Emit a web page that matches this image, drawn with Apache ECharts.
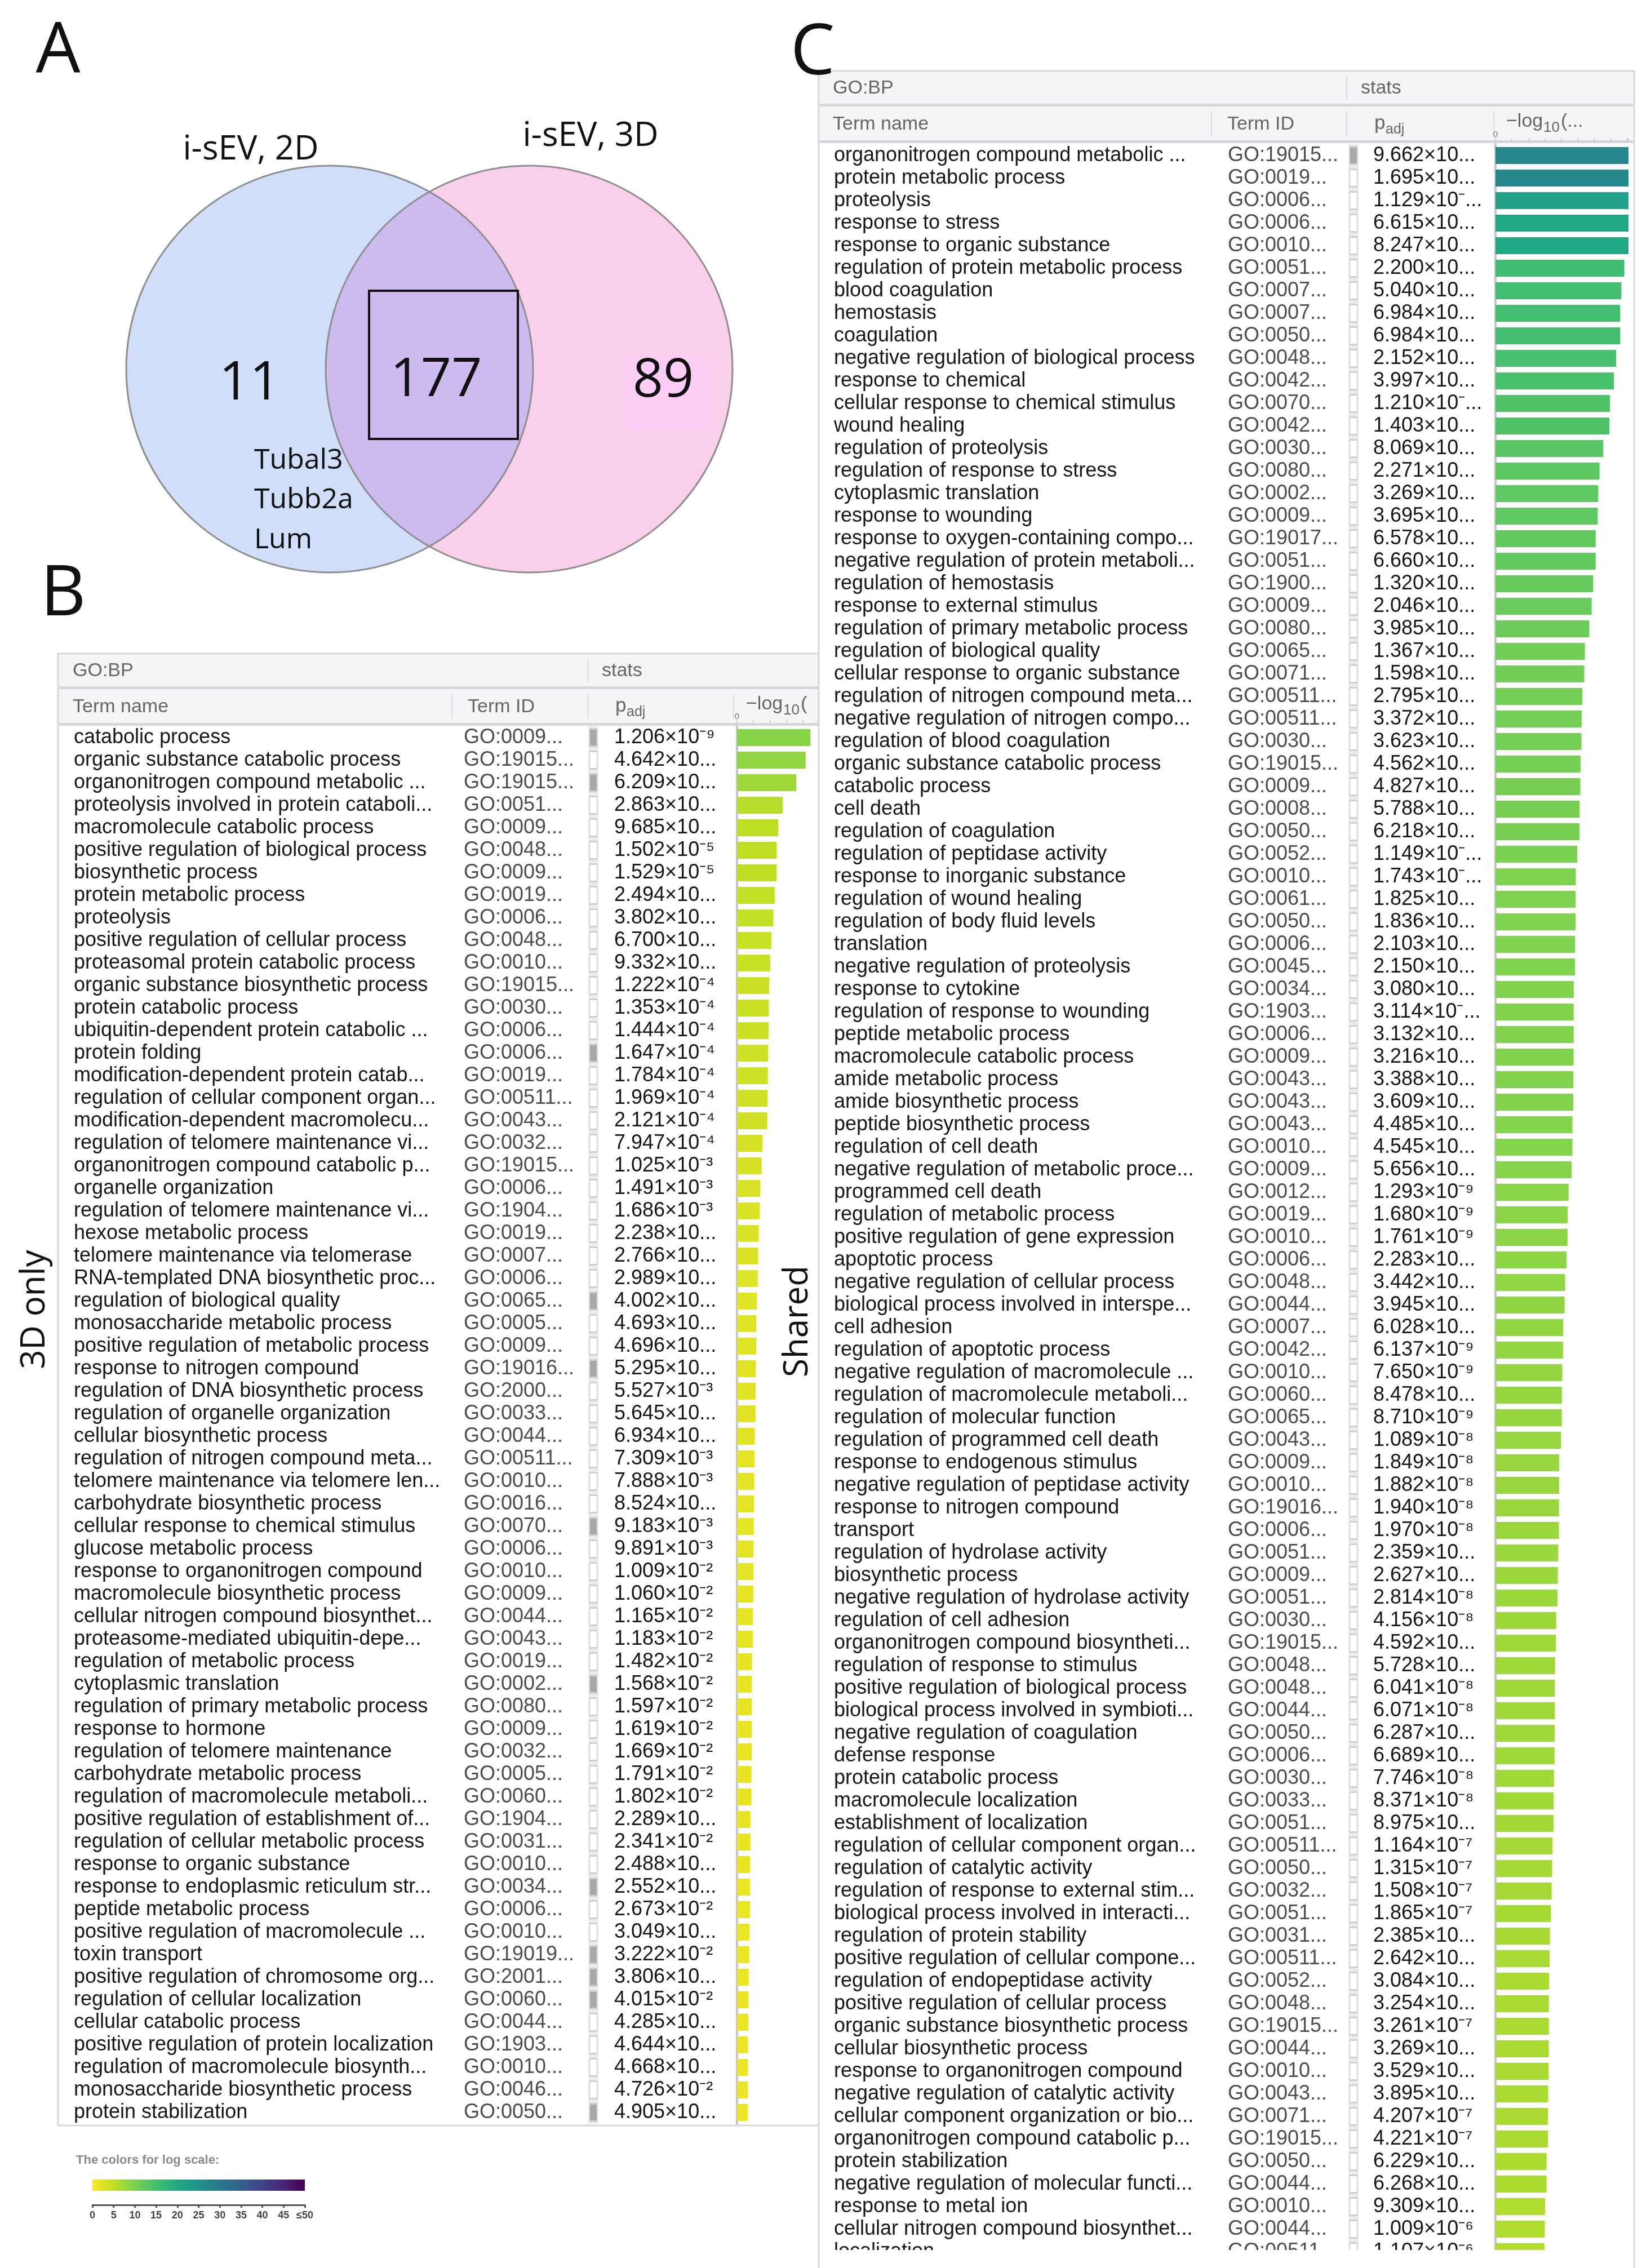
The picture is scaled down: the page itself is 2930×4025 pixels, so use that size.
<!DOCTYPE html>
<html><head><meta charset="utf-8">
<script src="https://cdn.jsdelivr.net/npm/echarts@6/dist/echarts.min.js"></script>
<style>html,body{margin:0;padding:0;background:#fff}#c{width:2930px;height:4025px}</style>
</head><body><div id="c"></div>
<script>
// ---------------- DATA ----------------
const vennSets = ['i-sEV, 2D', 'i-sEV, 3D'];
const vennCounts = ['11', '177', '89'];
const vennGenes = ['Tubal3', 'Tubb2a', 'Lum'];

const termsB = [
'catabolic process','organic substance catabolic process','organonitrogen compound metabolic ...',
'proteolysis involved in protein cataboli...','macromolecule catabolic process','positive regulation of biological process',
'biosynthetic process','protein metabolic process','proteolysis','positive regulation of cellular process',
'proteasomal protein catabolic process','organic substance biosynthetic process','protein catabolic process',
'ubiquitin-dependent protein catabolic ...','protein folding','modification-dependent protein catab...',
'regulation of cellular component organ...','modification-dependent macromolecu...','regulation of telomere maintenance vi...',
'organonitrogen compound catabolic p...','organelle organization','regulation of telomere maintenance vi...',
'hexose metabolic process','telomere maintenance via telomerase','RNA-templated DNA biosynthetic proc...',
'regulation of biological quality','monosaccharide metabolic process','positive regulation of metabolic process',
'response to nitrogen compound','regulation of DNA biosynthetic process','regulation of organelle organization',
'cellular biosynthetic process','regulation of nitrogen compound meta...','telomere maintenance via telomere len...',
'carbohydrate biosynthetic process','cellular response to chemical stimulus','glucose metabolic process',
'response to organonitrogen compound','macromolecule biosynthetic process','cellular nitrogen compound biosynthet...',
'proteasome-mediated ubiquitin-depe...','regulation of metabolic process','cytoplasmic translation',
'regulation of primary metabolic process','response to hormone','regulation of telomere maintenance',
'carbohydrate metabolic process','regulation of macromolecule metaboli...','positive regulation of establishment of...',
'regulation of cellular metabolic process','response to organic substance','response to endoplasmic reticulum str...',
'peptide metabolic process','positive regulation of macromolecule ...','toxin transport',
'positive regulation of chromosome org...','regulation of cellular localization','cellular catabolic process',
'positive regulation of protein localization','regulation of macromolecule biosynth...','monosaccharide biosynthetic process',
'protein stabilization'];
const idsB = [
'GO:0009...','GO:19015...','GO:19015...','GO:0051...','GO:0009...','GO:0048...','GO:0009...','GO:0019...',
'GO:0006...','GO:0048...','GO:0010...','GO:19015...','GO:0030...','GO:0006...','GO:0006...','GO:0019...',
'GO:00511...','GO:0043...','GO:0032...','GO:19015...','GO:0006...','GO:1904...','GO:0019...','GO:0007...',
'GO:0006...','GO:0065...','GO:0005...','GO:0009...','GO:19016...','GO:2000...','GO:0033...','GO:0044...',
'GO:00511...','GO:0010...','GO:0016...','GO:0070...','GO:0006...','GO:0010...','GO:0009...','GO:0044...',
'GO:0043...','GO:0019...','GO:0002...','GO:0080...','GO:0009...','GO:0032...','GO:0005...','GO:0060...',
'GO:1904...','GO:0031...','GO:0010...','GO:0034...','GO:0006...','GO:0010...','GO:19019...','GO:2001...',
'GO:0060...','GO:0044...','GO:1903...','GO:0010...','GO:0046...','GO:0050...'];
const padjB = [
1.206e-9,4.642e-9,6.209e-8,2.863e-6,9.685e-6,1.502e-5,1.529e-5,2.494e-5,3.802e-5,6.700e-5,9.332e-5,
1.222e-4,1.353e-4,1.444e-4,1.647e-4,1.784e-4,1.969e-4,2.121e-4,7.947e-4,
1.025e-3,1.491e-3,1.686e-3,2.238e-3,2.766e-3,2.989e-3,4.002e-3,4.693e-3,4.696e-3,5.295e-3,5.527e-3,
5.645e-3,6.934e-3,7.309e-3,7.888e-3,8.524e-3,9.183e-3,9.891e-3,
1.009e-2,1.060e-2,1.165e-2,1.183e-2,1.482e-2,1.568e-2,1.597e-2,1.619e-2,1.669e-2,1.791e-2,1.802e-2,
2.289e-2,2.341e-2,2.488e-2,2.552e-2,2.673e-2,3.049e-2,3.222e-2,3.806e-2,4.015e-2,4.285e-2,4.644e-2,
4.668e-2,4.726e-2,4.905e-2];
const padjTextB = [
'1.206×10⁻⁹','4.642×10...','6.209×10...','2.863×10...','9.685×10...','1.502×10⁻⁵','1.529×10⁻⁵','2.494×10...',
'3.802×10...','6.700×10...','9.332×10...','1.222×10⁻⁴','1.353×10⁻⁴','1.444×10⁻⁴','1.647×10⁻⁴','1.784×10⁻⁴',
'1.969×10⁻⁴','2.121×10⁻⁴','7.947×10⁻⁴','1.025×10⁻³','1.491×10⁻³','1.686×10⁻³','2.238×10...','2.766×10...',
'2.989×10...','4.002×10...','4.693×10...','4.696×10...','5.295×10...','5.527×10⁻³','5.645×10...','6.934×10...',
'7.309×10⁻³','7.888×10⁻³','8.524×10...','9.183×10⁻³','9.891×10⁻³','1.009×10⁻²','1.060×10⁻²','1.165×10⁻²',
'1.183×10⁻²','1.482×10⁻²','1.568×10⁻²','1.597×10⁻²','1.619×10⁻²','1.669×10⁻²','1.791×10⁻²','1.802×10⁻²',
'2.289×10...','2.341×10⁻²','2.488×10...','2.552×10...','2.673×10⁻²','3.049×10...','3.222×10⁻²','3.806×10...',
'4.015×10⁻²','4.285×10...','4.644×10...','4.668×10...','4.726×10⁻²','4.905×10...'];
const markB = [1,0,1,0,0,0,0,0,0,0,0,0,0,0,1,0,0,0,0,0,0,0,0,0,0,1,0,0,1,0,0,0,0,0,0,1,0,0,0,0,0,0,1,0,0,0,0,0,0,0,0,1,0,0,1,1,1,0,0,0,0,1];

const termsC = [
'organonitrogen compound metabolic ...','protein metabolic process','proteolysis','response to stress',
'response to organic substance','regulation of protein metabolic process','blood coagulation','hemostasis',
'coagulation','negative regulation of biological process','response to chemical','cellular response to chemical stimulus',
'wound healing','regulation of proteolysis','regulation of response to stress','cytoplasmic translation',
'response to wounding','response to oxygen-containing compo...','negative regulation of protein metaboli...','regulation of hemostasis',
'response to external stimulus','regulation of primary metabolic process','regulation of biological quality','cellular response to organic substance',
'regulation of nitrogen compound meta...','negative regulation of nitrogen compo...','regulation of blood coagulation','organic substance catabolic process',
'catabolic process','cell death','regulation of coagulation','regulation of peptidase activity',
'response to inorganic substance','regulation of wound healing','regulation of body fluid levels','translation',
'negative regulation of proteolysis','response to cytokine','regulation of response to wounding','peptide metabolic process',
'macromolecule catabolic process','amide metabolic process','amide biosynthetic process','peptide biosynthetic process',
'regulation of cell death','negative regulation of metabolic proce...','programmed cell death','regulation of metabolic process',
'positive regulation of gene expression','apoptotic process','negative regulation of cellular process','biological process involved in interspe...',
'cell adhesion','regulation of apoptotic process','negative regulation of macromolecule ...','regulation of macromolecule metaboli...',
'regulation of molecular function','regulation of programmed cell death','response to endogenous stimulus','negative regulation of peptidase activity',
'response to nitrogen compound','transport','regulation of hydrolase activity','biosynthetic process',
'negative regulation of hydrolase activity','regulation of cell adhesion','organonitrogen compound biosyntheti...','regulation of response to stimulus',
'positive regulation of biological process','biological process involved in symbioti...','negative regulation of coagulation','defense response',
'protein catabolic process','macromolecule localization','establishment of localization','regulation of cellular component organ...',
'regulation of catalytic activity','regulation of response to external stim...','biological process involved in interacti...','regulation of protein stability',
'positive regulation of cellular compone...','regulation of endopeptidase activity','positive regulation of cellular process','organic substance biosynthetic process',
'cellular biosynthetic process','response to organonitrogen compound','negative regulation of catalytic activity','cellular component organization or bio...',
'organonitrogen compound catabolic p...','protein stabilization','negative regulation of molecular functi...','response to metal ion',
'cellular nitrogen compound biosynthet...','localization'];
const idsC = [
'GO:19015...','GO:0019...','GO:0006...','GO:0006...','GO:0010...','GO:0051...','GO:0007...','GO:0007...',
'GO:0050...','GO:0048...','GO:0042...','GO:0070...','GO:0042...','GO:0030...','GO:0080...','GO:0002...',
'GO:0009...','GO:19017...','GO:0051...','GO:1900...','GO:0009...','GO:0080...','GO:0065...','GO:0071...',
'GO:00511...','GO:00511...','GO:0030...','GO:19015...','GO:0009...','GO:0008...','GO:0050...','GO:0052...',
'GO:0010...','GO:0061...','GO:0050...','GO:0006...','GO:0045...','GO:0034...','GO:1903...','GO:0006...',
'GO:0009...','GO:0043...','GO:0043...','GO:0043...','GO:0010...','GO:0009...','GO:0012...','GO:0019...',
'GO:0010...','GO:0006...','GO:0048...','GO:0044...','GO:0007...','GO:0042...','GO:0010...','GO:0060...',
'GO:0065...','GO:0043...','GO:0009...','GO:0010...','GO:19016...','GO:0006...','GO:0051...','GO:0009...',
'GO:0051...','GO:0030...','GO:19015...','GO:0048...','GO:0048...','GO:0044...','GO:0050...','GO:0006...',
'GO:0030...','GO:0033...','GO:0051...','GO:00511...','GO:0050...','GO:0032...','GO:0051...','GO:0031...',
'GO:00511...','GO:0052...','GO:0048...','GO:19015...','GO:0044...','GO:0010...','GO:0043...','GO:0071...',
'GO:19015...','GO:0050...','GO:0044...','GO:0010...','GO:0044...','GO:00511...'];
const padjC = [
9.662e-28,1.695e-27,1.129e-22,6.615e-21,8.247e-21,2.200e-16,5.040e-16,6.984e-16,6.984e-16,2.152e-15,3.997e-15,
1.210e-14,1.403e-14,8.069e-14,2.271e-13,3.269e-13,3.695e-13,6.578e-13,6.660e-13,1.320e-12,2.046e-12,3.985e-12,
1.367e-11,1.598e-11,2.795e-11,3.372e-11,3.623e-11,4.562e-11,4.827e-11,5.788e-11,6.218e-11,
1.149e-10,1.743e-10,1.825e-10,1.836e-10,2.103e-10,2.150e-10,3.080e-10,3.114e-10,3.132e-10,3.216e-10,3.388e-10,
3.609e-10,4.485e-10,4.545e-10,5.656e-10,
1.293e-9,1.680e-9,1.761e-9,2.283e-9,3.442e-9,3.945e-9,6.028e-9,6.137e-9,7.650e-9,8.478e-9,8.710e-9,
1.089e-8,1.849e-8,1.882e-8,1.940e-8,1.970e-8,2.359e-8,2.627e-8,2.814e-8,4.156e-8,4.592e-8,5.728e-8,6.041e-8,
6.071e-8,6.287e-8,6.689e-8,7.746e-8,8.371e-8,8.975e-8,
1.164e-7,1.315e-7,1.508e-7,1.865e-7,2.385e-7,2.642e-7,3.084e-7,3.254e-7,3.261e-7,3.269e-7,3.529e-7,3.895e-7,
4.207e-7,4.221e-7,6.229e-7,6.268e-7,9.309e-7,1.009e-6,1.107e-6];
const padjTextC = [
'9.662×10...','1.695×10...','1.129×10⁻...','6.615×10...','8.247×10...','2.200×10...','5.040×10...','6.984×10...',
'6.984×10...','2.152×10...','3.997×10...','1.210×10⁻...','1.403×10...','8.069×10...','2.271×10...','3.269×10...',
'3.695×10...','6.578×10...','6.660×10...','1.320×10...','2.046×10...','3.985×10...','1.367×10...','1.598×10...',
'2.795×10...','3.372×10...','3.623×10...','4.562×10...','4.827×10...','5.788×10...','6.218×10...','1.149×10⁻...',
'1.743×10⁻...','1.825×10...','1.836×10...','2.103×10...','2.150×10...','3.080×10...','3.114×10⁻...','3.132×10...',
'3.216×10...','3.388×10...','3.609×10...','4.485×10...','4.545×10...','5.656×10...','1.293×10⁻⁹','1.680×10⁻⁹',
'1.761×10⁻⁹','2.283×10...','3.442×10...','3.945×10...','6.028×10...','6.137×10⁻⁹','7.650×10⁻⁹','8.478×10...',
'8.710×10⁻⁹','1.089×10⁻⁸','1.849×10⁻⁸','1.882×10⁻⁸','1.940×10⁻⁸','1.970×10⁻⁸','2.359×10...','2.627×10...',
'2.814×10⁻⁸','4.156×10⁻⁸','4.592×10...','5.728×10...','6.041×10⁻⁸','6.071×10⁻⁸','6.287×10...','6.689×10...',
'7.746×10⁻⁸','8.371×10⁻⁸','8.975×10...','1.164×10⁻⁷','1.315×10⁻⁷','1.508×10⁻⁷','1.865×10⁻⁷','2.385×10...',
'2.642×10...','3.084×10...','3.254×10...','3.261×10⁻⁷','3.269×10...','3.529×10...','3.895×10...','4.207×10⁻⁷',
'4.221×10⁻⁷','6.229×10...','6.268×10...','9.309×10...','1.009×10⁻⁶','1.107×10⁻⁶'];
const markC = termsC.map((_, i) => i === 0 ? 1 : 0);

const scaleTicks = ['0','5','10','15','20','25','30','35','40','45','≤50'];
const viridisRev = ['#fde725','#bddf26','#7ad151','#44bf70','#22a884','#21918c','#2a788e','#355f8d','#414487','#482475','#440154'];

// ---------------- LAYOUT ----------------
const F = '"Liberation Sans", Arial, sans-serif';
const FO = '"Open Sans", "Noto Sans", sans-serif';
const PXU = 14.6;           // pixels per -log10 unit in the bar columns
const ROW = 40;
const B = {left:103, top:1160, body:1289, sq:1044, bar:1308, right:1452, term:131, id:823, padj:1090};
const C = {left:1453, top:126, body:256, sq:2393, bar:2654, right:2890, term:1480, id:2179, padj:2437};
const V = {lx:585, rx:939, cy:655, r:361};

function T(text, x, y, size, o) {
  o = o || {};
  return {type:'text', x:x, y:y, z:o.z == null ? 5 : o.z, rotation:o.rot || 0, silent:true,
    style:{text:text, fontSize:size, fontFamily:o.ff || F, fontWeight:o.fw || 'normal', fill:o.c || '#111',
      align:o.a || 'left', verticalAlign:o.va || 'middle'}};
}
function R(x, y, w, h, fill, z, stroke, lw) {
  return {type:'rect', z:z, silent:true, shape:{x:x, y:y, width:w, height:h},
    style:{fill:fill, stroke:stroke || null, lineWidth:lw || 0}};
}
function L(x1, y1, x2, y2, c, w, z) {
  return {type:'line', z:z, silent:true, shape:{x1:x1, y1:y1, x2:x2, y2:y2}, style:{stroke:c, lineWidth:w}};
}
// lens outline of the two Venn circles
function lensPoints() {
  const a = Math.acos((V.rx - V.lx) / 2 / V.r), pts = [], n = 80;
  for (let k = 0; k <= n; k++) { const t = -a + 2 * a * k / n; pts.push([V.lx + V.r * Math.cos(t), V.cy + V.r * Math.sin(t)]); }
  for (let k = 0; k <= n; k++) { const t = Math.PI - a + 2 * a * k / n; pts.push([V.rx + V.r * Math.cos(t), V.cy + V.r * Math.sin(t)]); }
  return pts;
}

const HDR = '#f4f5f7', SEP = '#d3d5d9', DIV = '#d9dbde', HTX = '#666';
function tableFrame(t, z0, colId, colLog, bottom, logText) {
  const g = [];
  const w = t.right - t.left + 10;
  const colPadj = t.padj;
  g.push(R(t.left, t.top, w, bottom - t.top, '#ffffff', z0, '#d5d7da', 3));
  g.push(R(t.left + 2, t.top + 2, w - 4, 56, HDR, z0 + 1));
  g.push(R(t.left + 2, t.top + 58, w - 4, 5, SEP, z0 + 1));
  g.push(R(t.left + 2, t.top + 63, w - 4, 60, HDR, z0 + 1));
  g.push(R(t.left + 2, t.top + 123, w - 4, 5, SEP, z0 + 1));
  g.push(L(colPadj - 47, t.top + 10, colPadj - 47, t.top + 52, DIV, 2, z0 + 2));
  g.push(L(colPadj - 47, t.top + 72, colPadj - 47, t.top + 116, DIV, 2, z0 + 2));
  g.push(L(colId, t.top + 72, colId, t.top + 116, DIV, 2, z0 + 2));
  g.push(L(colLog, t.top + 72, colLog, t.top + 116, DIV, 2, z0 + 2));
  g.push(T('GO:BP', t.term - 2, t.top + 31, 34, {c:HTX, z:z0 + 3}));
  g.push(T('stats', colPadj - 22, t.top + 31, 34, {c:HTX, z:z0 + 3}));
  g.push(T('Term name', t.term - 2, t.top + 95, 34, {c:HTX, z:z0 + 3}));
  g.push(T('Term ID', colId + 28, t.top + 95, 34, {c:HTX, z:z0 + 3}));
  g.push(T('p', colPadj + 2, t.top + 93, 35, {c:HTX, z:z0 + 3}));
  g.push(T('adj', colPadj + 22, t.top + 104, 25, {c:HTX, z:z0 + 3}));
  g.push(T('−log', colLog + 22, t.top + 90, 34, {c:HTX, z:z0 + 3}));
  g.push(T('10', colLog + 88, t.top + 101, 26, {c:HTX, z:z0 + 3}));
  g.push(T(logText, colLog + 119, t.top + 90, 34, {c:HTX, z:z0 + 3}));
  return g;
}

const graphics = [].concat(
  [T('A', 103, 92, 125, {ff:FO, a:'center'}), T('B', 112, 1056, 125, {ff:FO, a:'center'}), T('C', 1442, 96, 125, {ff:FO, a:'center'})],
  [
    {type:'circle', z:1, silent:true, shape:{cx:V.lx, cy:V.cy, r:V.r}, style:{fill:'#d0defa'}},
    {type:'circle', z:1, silent:true, shape:{cx:V.rx, cy:V.cy, r:V.r}, style:{fill:'#f9cfec'}},
    {type:'polygon', z:2, silent:true, shape:{points:lensPoints()}, style:{fill:'#cdbaee'}},
    {type:'circle', z:3, silent:true, shape:{cx:V.lx, cy:V.cy, r:V.r}, style:{fill:null, stroke:'#8e8e8e', lineWidth:3}},
    {type:'circle', z:3, silent:true, shape:{cx:V.rx, cy:V.cy, r:V.r}, style:{fill:null, stroke:'#8e8e8e', lineWidth:3}},
    R(1105, 632, 148, 130, '#fbcdf5', 3),
    {type:'rect', z:4, silent:true, shape:{x:655, y:516, width:264, height:263}, style:{fill:null, stroke:'#111', lineWidth:4}},
    T(vennSets[0], 445, 266, 60, {ff:FO, a:'center'}),
    T(vennSets[1], 1048, 242, 60, {ff:FO, a:'center'}),
    T(vennCounts[0], 443, 682, 95, {ff:FO, a:'center'}),
    T(vennCounts[1], 774, 676, 95, {ff:FO, a:'center'}),
    T(vennCounts[2], 1177, 677, 95, {ff:FO, a:'center'}),
    T(vennGenes[0], 451, 818, 50, {ff:FO}),
    T(vennGenes[1], 451, 888, 50, {ff:FO}),
    T(vennGenes[2], 451, 959, 50, {ff:FO})
  ],
  tableFrame(B, -30, 802, 1302, 3772, '('),
  tableFrame(C, -20, 2150, 2651, 4040, '(...'),
  [
    T('3D only', 62, 2324, 60, {ff:FO, a:'center', rot:Math.PI / 2}),
    T('Shared', 1416, 2345, 60, {ff:FO, a:'center', rot:Math.PI / 2, z:40}),
    R(C.left + 3, 3993, C.right - C.left - 2, 40, '#ffffff', 60),
    T('The colors for log scale:', 135, 3834, 22, {c:'#8a8a8a', fw:'bold'})
  ]
);

function catAxis(grid, data, show, margin, color, line) {
  return {type:'category', gridIndex:grid, data:data, inverse:true, position:'left', offset:0,
    axisLine:{show:!!line, lineStyle:{color:'#c6c6c6', width:4}},
    axisTick:{show:false}, splitLine:{show:false},
    axisLabel:{show:show, interval:0, align:'left', margin:margin, fontSize:36, fontFamily:F, color:color}};
}
function topAxis(grid, max) {
  return {type:'value', gridIndex:grid, min:0, max:max, interval:2, position:'top', offset:4,
    axisLine:{show:false}, splitLine:{show:false},
    axisTick:{show:true, length:7, lineStyle:{color:'#cfd1d4', width:2}},
    axisLabel:{formatter:v => v === 0 ? '0' : '', fontSize:15, color:'#777', margin:6, fontFamily:F}};
}
const hidX = g => ({type:'value', gridIndex:g, min:0, max:1, show:false});
const idxB = termsB.map((_, i) => i), idxC = termsC.map((_, i) => i);

const option = {
  animation:false,
  backgroundColor:'#ffffff',
  graphic:{elements:graphics},
  grid:[
    {left:B.sq, top:B.body, width:18, height:termsB.length * ROW, show:true, backgroundColor:'#ececec', borderWidth:0},
    {left:B.bar, top:B.body, width:B.right - B.bar, height:termsB.length * ROW},
    {left:C.sq, top:C.body, width:18, height:termsC.length * ROW, show:true, backgroundColor:'#ececec', borderWidth:0},
    {left:C.bar, top:C.body, width:C.right - C.bar, height:termsC.length * ROW},
    {left:164, top:3868, width:377, height:20}
  ],
  xAxis:[
    hidX(0),
    topAxis(1, (B.right - B.bar) / PXU),
    hidX(2),
    topAxis(3, (C.right - C.bar) / PXU),
    {type:'value', gridIndex:4, min:0, max:50, interval:5, position:'bottom', offset:25,
      axisLine:{show:true, lineStyle:{color:'#555', width:3}},
      axisTick:{show:true, length:5, lineStyle:{color:'#555', width:3}},
      splitLine:{show:false},
      axisLabel:{formatter:v => scaleTicks[Math.round(v / 5)], fontSize:18, fontWeight:'bold', color:'#444', margin:10, fontFamily:F}}
  ],
  yAxis:[
    catAxis(0, idxB, false, 0, '#000', false),
    catAxis(1, termsB, true, B.bar - B.term, '#161616', true),
    catAxis(1, idsB, true, B.bar - B.id, '#4e4e4e', false),
    catAxis(1, padjTextB, true, B.bar - B.padj, '#161616', false),
    catAxis(2, idxC, false, 0, '#000', false),
    catAxis(3, termsC, true, C.bar - C.term, '#161616', true),
    catAxis(3, idsC, true, C.bar - C.id, '#4e4e4e', false),
    catAxis(3, padjTextC, true, C.bar - C.padj, '#161616', false),
    {type:'category', gridIndex:4, data:['scale'], show:false}
  ],
  visualMap:{type:'continuous', show:false, min:0, max:50, dimension:0, seriesIndex:[1, 3], inRange:{color:viridisRev}},
  series:[
    {type:'scatter', xAxisIndex:0, yAxisIndex:0, symbol:'rect', symbolSize:[13, 31], silent:true,
      data:markB.map((m, i) => [0.5, i, m]),
      itemStyle:{color:p => p.data[2] ? '#a9a9a9' : '#ffffff', borderColor:'#cfcfcf', borderWidth:2, opacity:1}},
    {type:'bar', xAxisIndex:1, yAxisIndex:1, barWidth:30, clip:true, silent:true,
      data:padjB.map((p, i) => [-Math.log10(p), i])},
    {type:'scatter', xAxisIndex:2, yAxisIndex:4, symbol:'rect', symbolSize:[13, 31], silent:true,
      data:markC.map((m, i) => [0.5, i, m]),
      itemStyle:{color:p => p.data[2] ? '#a9a9a9' : '#ffffff', borderColor:'#cfcfcf', borderWidth:2, opacity:1}},
    {type:'bar', xAxisIndex:3, yAxisIndex:5, barWidth:30, clip:true, silent:true,
      data:padjC.map((p, i) => [-Math.log10(p), i])},
    {type:'bar', xAxisIndex:4, yAxisIndex:8, barWidth:20, silent:true, data:[50],
      itemStyle:{color:{type:'linear', x:0, y:0, x2:1, y2:0,
        colorStops:viridisRev.map((c, i) => ({offset:i / (viridisRev.length - 1), color:c}))}}}
  ]
};
const chart = echarts.init(document.getElementById('c'), null, {width:2930, height:4025});
chart.setOption(option);
</script></body></html>
